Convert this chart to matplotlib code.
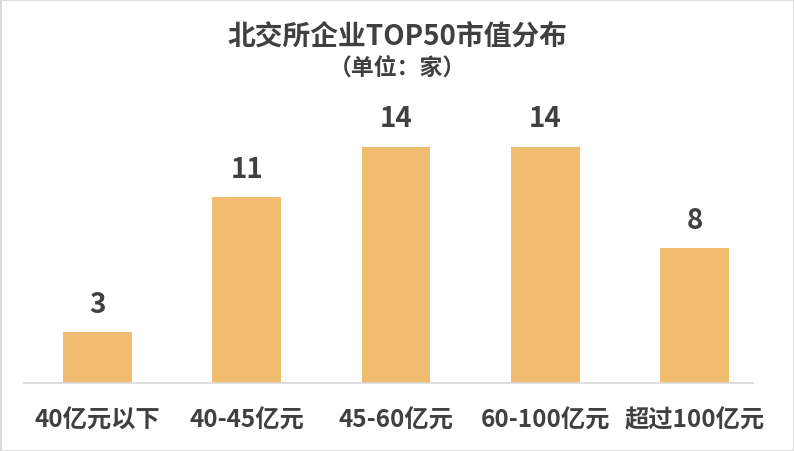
import numpy as np
import matplotlib.pyplot as plt

plt.rcParams['font.family'] = ['Noto Sans CJK SC', 'DejaVu Sans']

# 数据
categories = ['40亿元以下', '40-45亿元', '45-60亿元', '60-100亿元', '超过100亿元']
counts = [3, 11, 14, 14, 8]

bar_color = '#F0BC70'
text_color = '#404040'

fig = plt.figure(figsize=(7.94, 4.52), dpi=100)
ax = fig.add_axes([23/794, 1 - 384/452, 746/794, 270/452])

x = np.arange(len(categories))
bars = ax.bar(x, counts, width=0.46, color=bar_color)

for xi, v in zip(x, counts):
    ax.text(xi, v + 0.85, str(v), ha='center', va='bottom',
            fontsize=20, fontweight='bold', color=text_color)

ax.set_xlim(-0.5, len(categories) - 0.5)
ax.set_ylim(0, 16)
ax.set_xticks(x)
ax.set_xticklabels(categories, fontsize=17.5, fontweight='bold', color=text_color)
ax.tick_params(axis='x', length=0, pad=18)
ax.set_yticks([])
for s in ['top', 'right', 'left']:
    ax.spines[s].set_visible(False)
ax.spines['bottom'].set_color('#D9D9D9')
ax.spines['bottom'].set_linewidth(1.2)
ax.spines['bottom'].set_bounds(-0.49, 4.39)

fig.text(0.5, 1 - 37/452, '北交所企业TOP50市值分布', ha='center', va='center',
         fontsize=20, fontweight='bold', color=text_color)
fig.text(0.5, 1 - 68/452, '（单位：家）', ha='center', va='center',
         fontsize=16.5, fontweight='bold', color=text_color)

# 外框
fig.patches.append(plt.Rectangle((0, 0), 1, 1, transform=fig.transFigure,
                                 fill=False, edgecolor='#D9D9D9', linewidth=2))

fig.savefig('out.png', dpi=100)
